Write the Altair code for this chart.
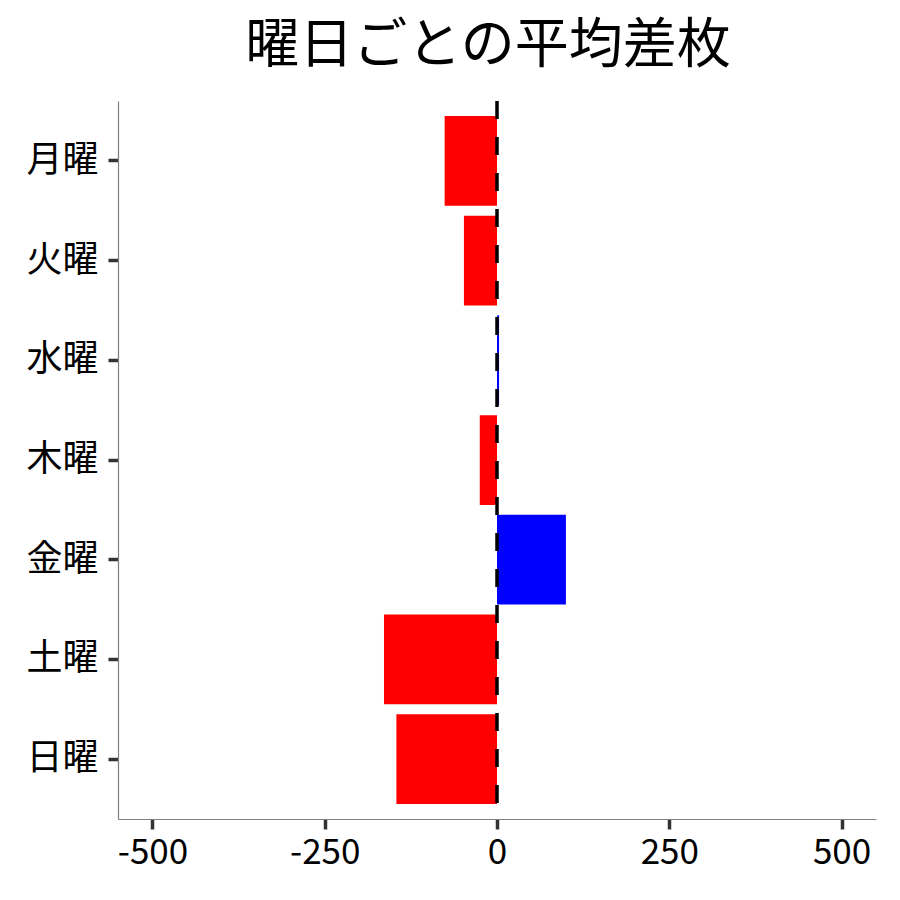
import altair as alt
import pandas as pd

days = ["月曜", "火曜", "水曜", "木曜", "金曜", "土曜", "日曜"]
values = [-76, -48, 3, -25, 100, -164, -146]
colors = ["#ff0000" if v < 0 else "#0000ff" for v in values]
x_ticks = [-500, -250, 0, 250, 500]

df = pd.DataFrame({"day": days, "value": values, "color": colors})

FONT = "Noto Sans CJK JP"

bars = alt.Chart(df).mark_bar().encode(
    y=alt.Y("day:N", sort=days, title=None,
            scale=alt.Scale(paddingInner=0.1, paddingOuter=0.15)),
    x=alt.X("value:Q", title=None,
            scale=alt.Scale(domain=[-550, 550], nice=False, zero=False),
            axis=alt.Axis(values=x_ticks, labelExpr="'' + datum.value",
                          labelFontSize=35)),
    color=alt.Color("color:N", scale=None),
)

rule = alt.Chart(pd.DataFrame({"x": [0]})).mark_rule(
    color="black", strokeWidth=3.5, strokeDash=[18, 18]
).encode(x="x:Q")

chart = (bars + rule).properties(
    width=758,
    height=718,
    padding={"left": 5, "top": 12, "right": 5, "bottom": 5},
    title=alt.TitleParams("曜日ごとの平均差枚", font=FONT, fontSize=54,
                          fontWeight="normal", color="black", anchor="middle",
                          dx=-9, offset=25),
).configure_view(stroke=None).configure_axis(
    grid=False,
    labelFont=FONT,
    labelFontSize=36,
    labelColor="black",
    domainColor="#7f7f7f",
    domainWidth=1.2,
    tickColor="#333333",
    tickWidth=3.5,
    tickSize=10,
    labelPadding=6,
).configure_axisY(labelPadding=10, minExtent=105, maxExtent=105)

chart.save("out.html", embed_options={"renderer": "svg", "actions": False})
